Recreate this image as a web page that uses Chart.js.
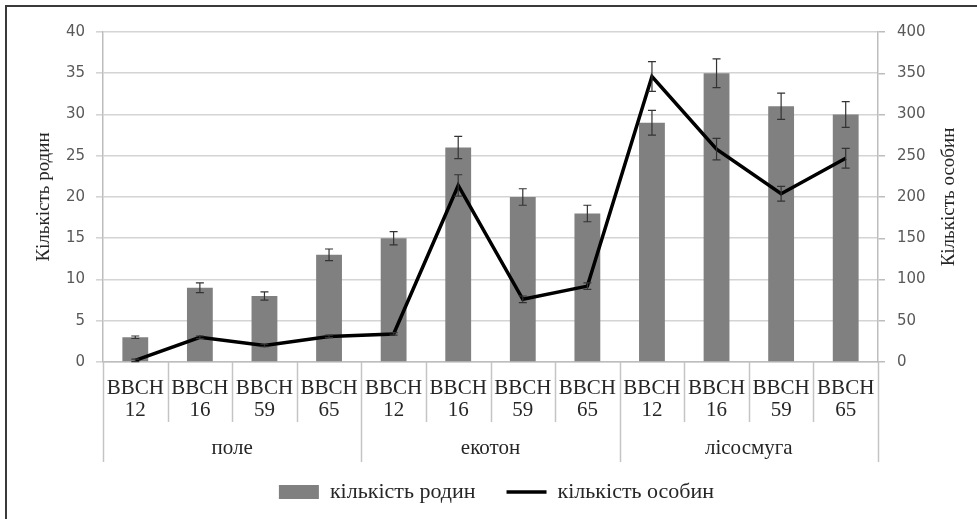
<!DOCTYPE html>
<html>
<head>
<meta charset="utf-8">
<script src="https://cdn.jsdelivr.net/npm/chart.js@4.4.1/dist/chart.umd.min.js"></script>
<style>
    html, body { margin: 0; padding: 0; background: #fff; }
    #wrap { position: relative; width: 977px; height: 519px; overflow: hidden; }
    #frame { position: absolute; left: 5px; top: 5px; width: 990px; height: 530px; border-left: 2px solid #3a3a3a; border-top: 2px solid #3a3a3a; pointer-events: none; }
</style>
</head>
<body>
<div id="wrap">
    <canvas id="bbchChart" width="977" height="519"></canvas>
    <div id="frame"></div>
</div>
<script>
// дані з рисунка
const categories = [
    ['BBCH', '12'], ['BBCH', '16'], ['BBCH', '59'], ['BBCH', '65'],
    ['BBCH', '12'], ['BBCH', '16'], ['BBCH', '59'], ['BBCH', '65'],
    ['BBCH', '12'], ['BBCH', '16'], ['BBCH', '59'], ['BBCH', '65']
];
const groups = ['поле', 'екотон', 'лісосмуга'];
const familyCounts = [3, 9, 8, 13, 15, 26, 20, 18, 29, 35, 31, 30];
const familyErrors = [0.15, 0.6, 0.5, 0.7, 0.8, 1.35, 1.0, 1.0, 1.5, 1.75, 1.6, 1.55];
const individualCounts = [2, 30, 20, 31, 34, 214, 76, 92, 346, 258, 204, 247];
const individualErrors = [1.5, 1.5, 1.5, 1.5, 1.5, 13, 4, 4, 18, 13, 9, 12];
const leftTicks = [0, 5, 10, 15, 20, 25, 30, 35, 40];
const rightTicks = [0, 50, 100, 150, 200, 250, 300, 350, 400];
const rightTitle = 'Кількість особин';

const serif = "'Liberation Serif', 'Times New Roman', serif";
const sans = "'DejaVu Sans', sans-serif";

// планки похибок для стовпців і лінії
const errorBars = {
    id: 'errorBars',
    afterDatasetDraw(chart, args) {
        const ds = chart.data.datasets[args.index];
        if (!ds.errors) return;
        const scale = chart.scales[ds.yAxisID];
        const ctx = chart.ctx;
        ctx.save();
        ctx.strokeStyle = '#333';
        ctx.lineWidth = 1.2;
        args.meta.data.forEach((el, i) => {
            const v = ds.data[i], e = ds.errors[i];
            const top = scale.getPixelForValue(v + e);
            const bot = scale.getPixelForValue(v - e);
            ctx.beginPath();
            ctx.moveTo(el.x, top); ctx.lineTo(el.x, bot);
            ctx.moveTo(el.x - 4, top); ctx.lineTo(el.x + 4, top);
            ctx.moveTo(el.x - 4, bot); ctx.lineTo(el.x + 4, bot);
            ctx.stroke();
        });
        ctx.restore();
    }
};

// розділювачі категорій, підписи груп і назва правої осі
const groupLabels = {
    id: 'groupLabels',
    afterDraw(chart) {
        const xs = chart.scales.x;
        const ctx = chart.ctx;
        const n = categories.length;
        const per = n / groups.length;
        const step = (xs.right - xs.left) / n;
        ctx.save();
        ctx.strokeStyle = '#c4c4c4';
        ctx.lineWidth = 1.5;
        for (let i = 0; i <= n; i++) {
            const x = Math.round(xs.left + i * step) + 0.5;
            ctx.beginPath();
            ctx.moveTo(x, xs.top);
            ctx.lineTo(x, xs.top + (i % per === 0 ? 100 : 60));
            ctx.stroke();
        }
        ctx.fillStyle = '#262626';
        ctx.font = '21px ' + serif;
        ctx.textAlign = 'center';
        ctx.textBaseline = 'middle';
        groups.forEach((g, k) => {
            ctx.fillText(g, xs.left + (k * per + per / 2) * step, xs.top + 86);
        });

        // права назва читається знизу вгору, як у оригіналі
        const y1 = chart.scales.y1;
        ctx.font = '19px ' + serif;
        ctx.translate(y1.right - 15, (y1.top + y1.bottom) / 2);
        ctx.rotate(-Math.PI / 2);
        ctx.fillText(rightTitle, 0, 0);
        ctx.restore();
    }
};

const ctx = document.getElementById('bbchChart').getContext('2d');
const bbchChart = new Chart(ctx, {
    type: 'bar',
    data: {
        labels: categories,
        datasets: [{
            type: 'line',
            label: 'кількість особин',
            data: individualCounts,
            errors: individualErrors,
            yAxisID: 'y1',
            borderColor: '#000',
            backgroundColor: '#000',
            borderWidth: 3.5,
            pointRadius: 0,
            pointStyle: 'line',
            tension: 0,
            order: 0
        }, {
            type: 'bar',
            label: 'кількість родин',
            data: familyCounts,
            errors: familyErrors,
            yAxisID: 'y',
            backgroundColor: '#808080',
            borderWidth: 0,
            pointStyle: 'rect',
            barPercentage: 0.8,
            categoryPercentage: 0.5,
            order: 1
        }]
    },
    options: {
        responsive: false,
        animation: false,
        layout: { padding: { left: 29, right: 13, top: 32, bottom: 6 } },
        plugins: {
            tooltip: { enabled: false },
            legend: {
                position: 'bottom',
                reverse: true,
                labels: {
                    usePointStyle: true,
                    pointStyleWidth: 40,
                    boxHeight: 14,
                    padding: 31,
                    color: '#262626',
                    font: { family: serif, size: 22 }
                }
            }
        },
        scales: {
            x: {
                grid: { display: false },
                border: { display: true, color: '#bdbdbd', width: 1.5 },
                ticks: {
                    color: '#262626',
                    padding: 7,
                    maxRotation: 0,
                    autoSkip: false,
                    font: { family: serif, size: 21, lineHeight: 1.06 }
                },
                afterFit(scale) { scale.height = 88; }
            },
            y: {
                position: 'left',
                min: 0,
                max: 40,
                afterBuildTicks(scale) { scale.ticks = leftTicks.map(v => ({ value: v })); },
                grid: { color: '#d4d4d4', lineWidth: 1.6, tickLength: 7 },
                border: { color: '#bdbdbd', width: 1.5 },
                ticks: { color: '#595959', padding: 11, font: { family: sans, size: 15 } },
                title: {
                    display: true,
                    text: 'Кількість родин',
                    color: '#262626',
                    font: { family: serif, size: 19 }
                },
                afterFit(scale) { scale.width = 74; }
            },
            y1: {
                position: 'right',
                min: 0,
                max: 400,
                afterBuildTicks(scale) { scale.ticks = rightTicks.map(v => ({ value: v })); },
                grid: { drawOnChartArea: false, color: '#bdbdbd', lineWidth: 1.5, tickLength: 7 },
                border: { color: '#bdbdbd', width: 1.5 },
                ticks: { color: '#595959', padding: 12, font: { family: sans, size: 15 } },
                afterFit(scale) { scale.width = 86; }
            }
        }
    },
    plugins: [errorBars, groupLabels]
});
</script>
</body>
</html>
